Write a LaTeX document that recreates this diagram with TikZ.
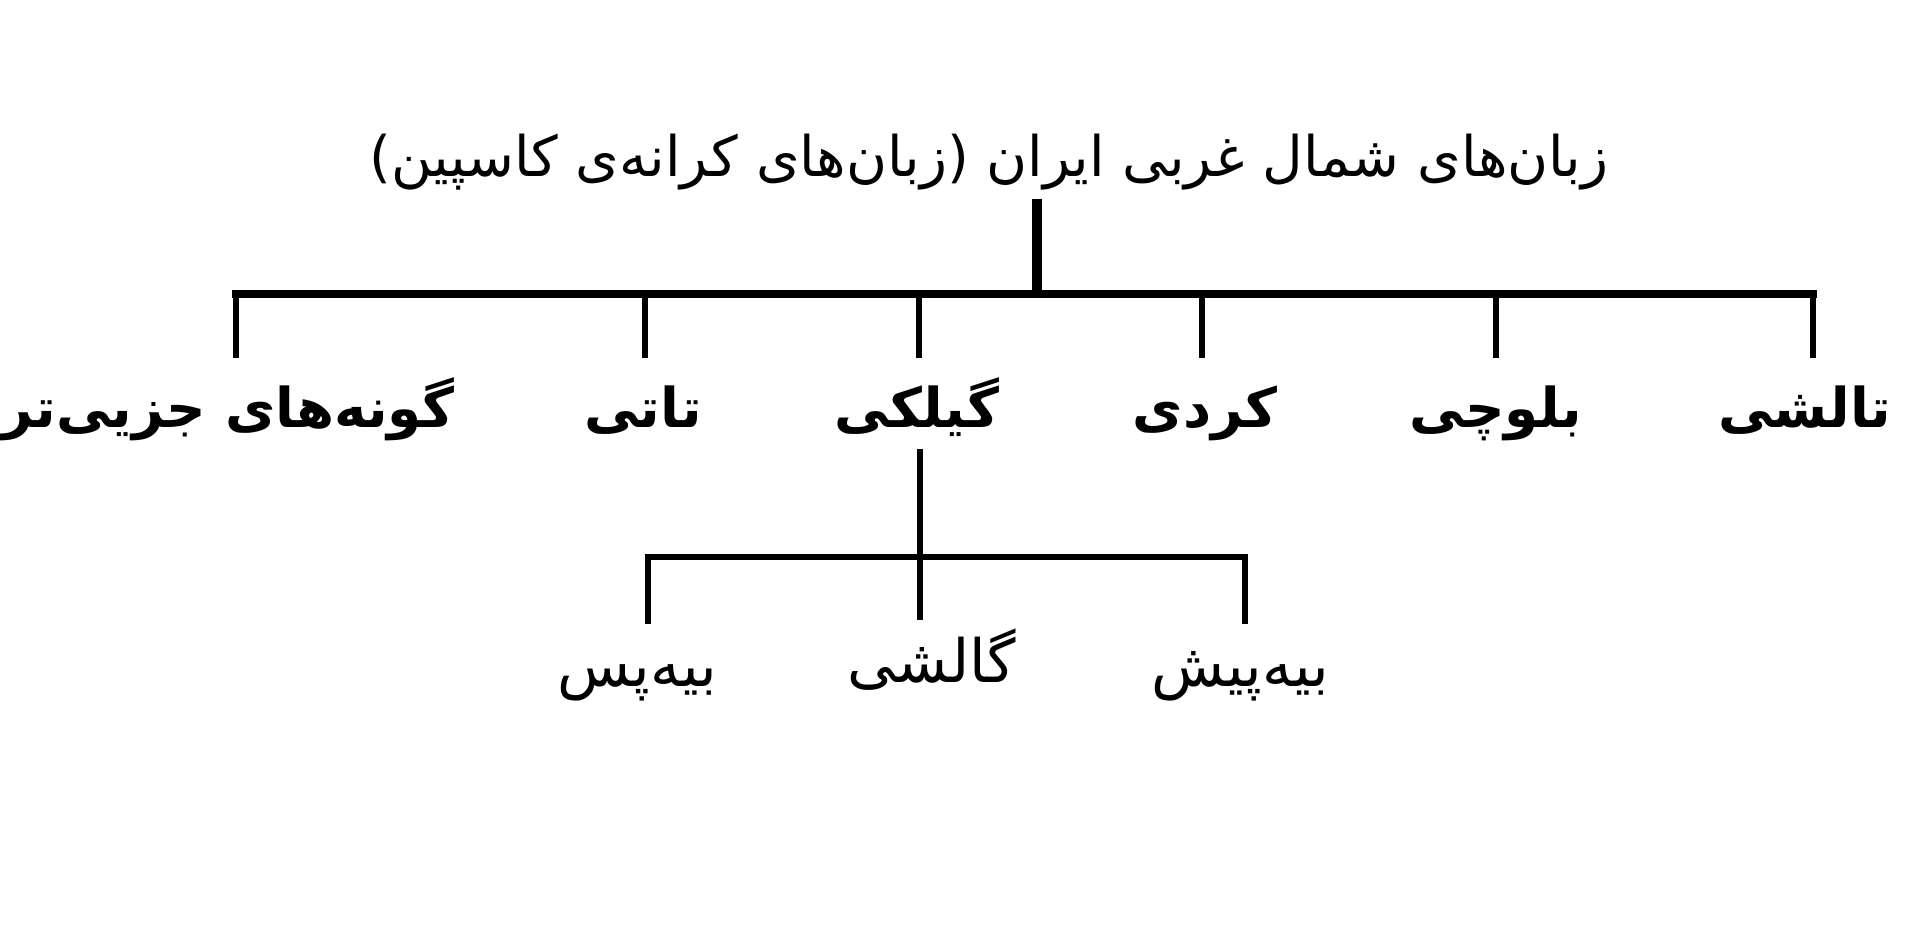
\documentclass[tikz,border=0pt]{standalone}
\usepackage{fontspec}
\newfontfamily\fa[Script=Arabic]{DejaVu Sans}
\TeXXeTstate=1
\usetikzlibrary{positioning}
\newcommand{\rtl}[1]{\beginR #1\endR}

\begin{document}
\begin{tikzpicture}[x=0.01cm, y=-0.01cm,
  root/.style={font=\fa\fontsize{15.9}{19}\selectfont, inner sep=0pt, anchor=base, text depth=0.22cm},
  lang/.style={font=\fa\bfseries\fontsize{15.6}{19}\selectfont, inner sep=0pt, anchor=north, text height=0.69cm, text depth=0.21cm},
  dialect/.style={font=\fa\fontsize{17}{20}\selectfont, inner sep=0pt, anchor=north, text height=0.62cm},
  stem/.style={line width=3pt},
  bar/.style={line width=2.2pt, line cap=rect},
  drop/.style={line width=1.9pt},
  twig/.style={line width=1.5pt},
]
\useasboundingbox (0,0) rectangle (1920,932);

% root
\node[root] (root) at (989,176) {\rtl{زبان‌های شمال غربی ایران (زبان‌های کرانه‌ی کاسپین)}};
\coordinate (hub) at (1037,294);
\coordinate (bar-l) at (236,294);
\coordinate (bar-r) at (1813,294);
\coordinate (b-baluchi) at (1496,294);
\coordinate (b-kurdi) at (1202,294);
\coordinate (b-gilaki) at (919,294);
\coordinate (b-tati) at (645,294);
\draw[stem] (root.south -| hub) -- (hub);
\draw[bar] (bar-l) -- (bar-r);

% languages
\node[lang] (talshi) at (1805,358) {\rtl{تالشی}};
\node[lang] (baluchi) at (1496,358) {\rtl{بلوچی}};
\node[lang] (kurdi) at (1205,358) {\rtl{کردی}};
\node[lang] (gilaki) at (917,358) {\rtl{گیلکی}};
\node[lang] (tati) at (643,358) {\rtl{تاتی}};
\node[lang] (minor) at (228,358) {\rtl{گونه‌های جزیی‌تر}};

\draw[drop] (bar-r) -- (bar-r |- talshi.north);
\draw[drop] (b-baluchi) -- (b-baluchi |- baluchi.north);
\draw[drop] (b-kurdi) -- (b-kurdi |- kurdi.north);
\draw[drop] (b-gilaki) -- (b-gilaki |- gilaki.north);
\draw[drop] (b-tati) -- (b-tati |- tati.north);
\draw[drop] (bar-l) -- (bar-l |- minor.north);

% gilaki dialects
\coordinate (sub) at (920,557);
\coordinate (sub-l) at (648,557);
\coordinate (sub-r) at (1245,557);
\node[dialect] (galeshi) at (932,620) {\rtl{گالشی}};
\node[dialect] (biapas) at (637,624) {\rtl{بیه‌پس}};
\node[dialect] (biapish) at (1240,624) {\rtl{بیه‌پیش}};

\draw[twig] (gilaki.south -| sub) -- (sub |- galeshi.north);
\draw[twig, line cap=rect] (sub-l) -- (sub-r);
\draw[twig] (sub-l) -- (sub-l |- biapas.north);
\draw[twig] (sub-r) -- (sub-r |- biapish.north);
\end{tikzpicture}
\end{document}
